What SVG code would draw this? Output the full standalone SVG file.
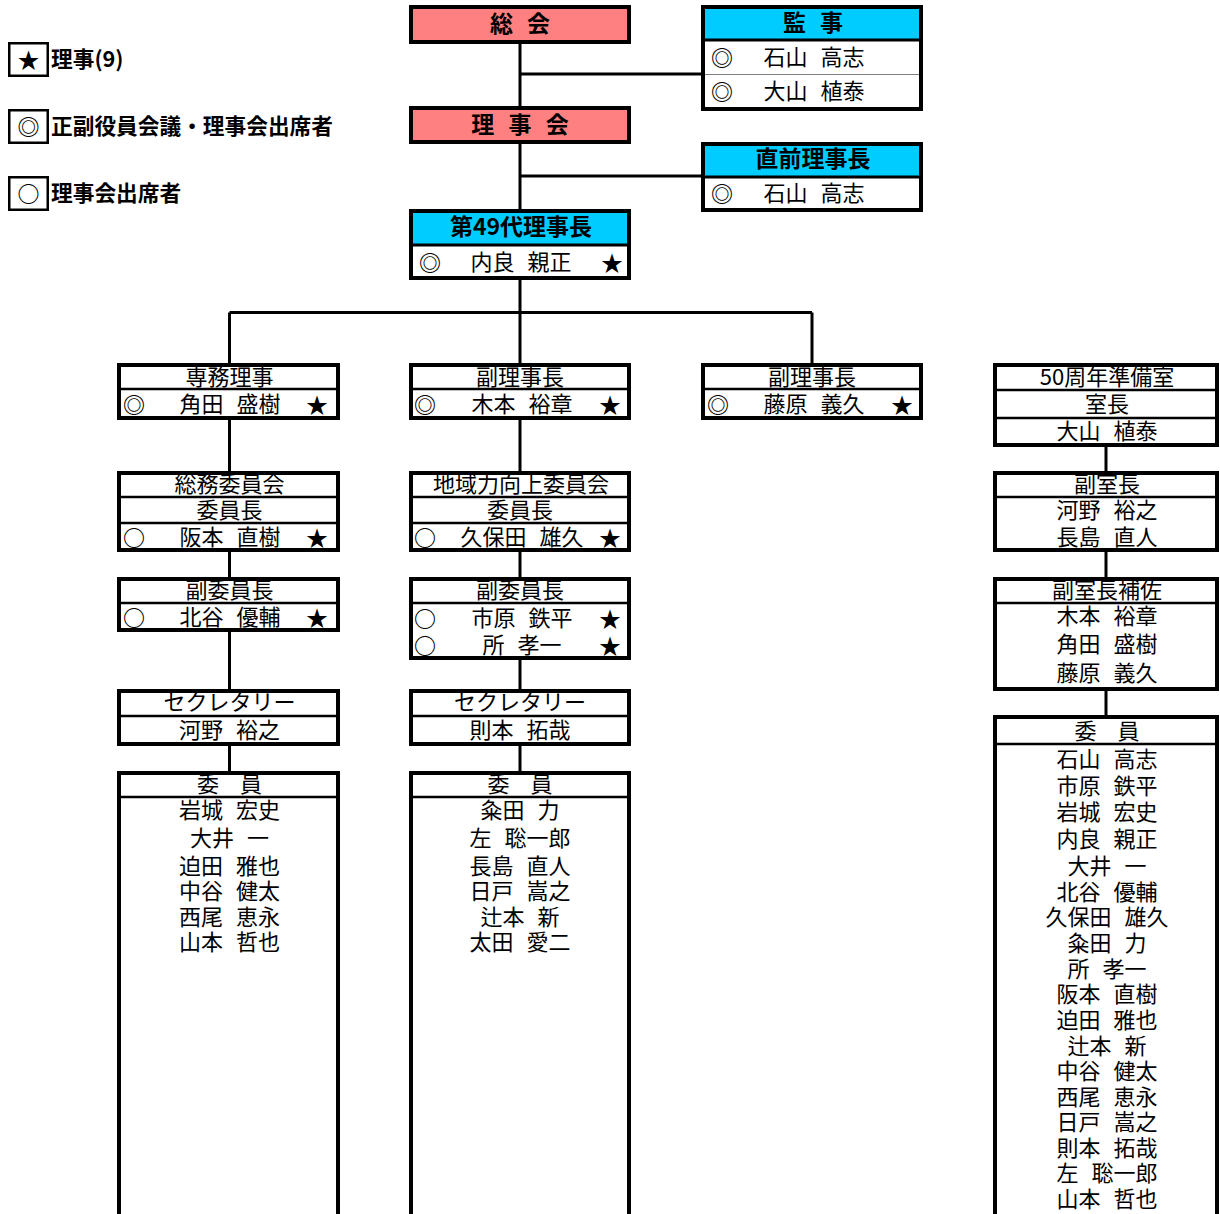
<svg xmlns="http://www.w3.org/2000/svg" width="1220" height="1214" viewBox="0 0 1220 1214">
<style>
text{font-family:"Noto Sans CJK JP","Noto Sans CJK SC",sans-serif;dominant-baseline:central;fill:#000;transform:translate(0px,-2.5px)}
.box{fill:#fff;stroke:#000;stroke-width:4}
.ol{fill:none;stroke:#000;stroke-width:4}
.pink{fill:#FF8080}
.cyan{fill:#00CCFF}
.dv{stroke:#000;stroke-width:2.5}
.dvt{stroke:#000;stroke-width:3}
.thin{stroke:#808080;stroke-width:1.2}
.conn{stroke:#000;stroke-width:3;fill:none}
.h{font-size:23px;font-weight:bold;text-anchor:middle;word-spacing:9px}
.t{font-size:22px;text-anchor:middle;word-spacing:8px}
.m{font-size:22px;text-anchor:middle}
.r{font-size:22px;text-anchor:middle;font-weight:bold}
.lg{font-size:21.7px;font-weight:bold}
.lb{fill:#fff;stroke:#000;stroke-width:2.5}
</style>

<g id="connectors">
<path class="conn" d="M520 44V365M520 74H703M520 176H703M229.5 312.5H812M229.5 312.5V771M520 312V771M812 312.5V365M1106 447V717"/>
</g>

<g id="legend">
<rect class="lb" x="9.25" y="43.25" width="38.5" height="32.5"/>
<text class="m" x="28.5" y="60">★</text>
<text class="lg" x="51" y="59.5">理事(9)</text>
<rect class="lb" x="9.25" y="110.25" width="38.5" height="32.5"/>
<text class="r" x="28.5" y="127">◎</text>
<text class="lg" x="51" y="126.5">正副役員会議・理事会出席者</text>
<rect class="lb" x="9.25" y="177.25" width="38.5" height="32.5"/>
<text class="r" x="28.5" y="194">○</text>
<text class="lg" x="51" y="193.5">理事会出席者</text>
</g>

<g id="soukai">
<rect class="box pink" x="411" y="7" width="218" height="35"/>
<text class="h" x="520" y="24">総 会</text>
</g>

<g id="kanji">
<rect class="box" x="703" y="7" width="218" height="102"/>
<rect class="cyan" x="703" y="7" width="218" height="33"/>
<line class="dvt" x1="703" y1="40" x2="921" y2="40"/>
<line class="thin" x1="703" y1="74.5" x2="921" y2="74.5"/>
<rect class="ol" x="703" y="7" width="218" height="102"/>
<text class="h" x="813" y="23">監 事</text>
<text class="r" x="722" y="58">◎</text>
<text class="t" x="814" y="57">石山 高志</text>
<text class="r" x="722" y="92">◎</text>
<text class="t" x="814" y="91">大山 植泰</text>
</g>

<g id="rijikai">
<rect class="box pink" x="411" y="108" width="218" height="34"/>
<text class="h" x="520" y="125">理 事 会</text>
</g>

<g id="chokuzen">
<rect class="box" x="703" y="144" width="218" height="66"/>
<rect class="cyan" x="703" y="144" width="218" height="32"/>
<line class="dvt" x1="703" y1="177" x2="921" y2="177"/>
<rect class="ol" x="703" y="144" width="218" height="66"/>
<text class="h" x="813" y="159">直前理事長</text>
<text class="r" x="722" y="194">◎</text>
<text class="t" x="814" y="193">石山 高志</text>
</g>

<g id="rijicho">
<rect class="box" x="411" y="211" width="218" height="67"/>
<rect class="cyan" x="411" y="211" width="218" height="33"/>
<line class="dvt" x1="411" y1="245" x2="629" y2="245"/>
<rect class="ol" x="411" y="211" width="218" height="67"/>
<text class="h" x="521" y="227">第49代理事長</text>
<text class="r" x="430" y="263">◎</text>
<text class="t" x="521" y="262">内良 親正</text>
<text class="m" x="612" y="263">★</text>
</g>

<g id="senmu">
<rect class="box" x="119" y="365" width="219" height="53"/>
<line class="dv" x1="119" y1="389" x2="338" y2="389"/>
<text class="t" x="229.5" y="377">専務理事</text>
<text class="r" x="134" y="405">◎</text>
<text class="t" x="230" y="404">角田 盛樹</text>
<text class="m" x="317" y="405">★</text>
</g>

<g id="fukurijicho1">
<rect class="box" x="411" y="365" width="218" height="53"/>
<line class="dv" x1="411" y1="389" x2="629" y2="389"/>
<text class="t" x="520" y="377">副理事長</text>
<text class="r" x="425" y="405">◎</text>
<text class="t" x="522" y="404">木本 裕章</text>
<text class="m" x="610" y="405">★</text>
</g>

<g id="fukurijicho2">
<rect class="box" x="703" y="365" width="218" height="53"/>
<line class="dv" x1="703" y1="389" x2="921" y2="389"/>
<text class="t" x="812" y="377">副理事長</text>
<text class="r" x="718" y="405">◎</text>
<text class="t" x="814" y="404">藤原 義久</text>
<text class="m" x="902" y="405">★</text>
</g>

<g id="junbishitsu">
<rect class="box" x="995" y="365" width="222" height="80"/>
<line class="dv" x1="995" y1="390" x2="1217" y2="390"/>
<line class="dv" x1="995" y1="418" x2="1217" y2="418"/>
<text class="t" x="1107" y="377">50周年準備室</text>
<text class="t" x="1107" y="404">室長</text>
<text class="t" x="1107" y="431">大山 植泰</text>
</g>

<g id="somu">
<rect class="box" x="119" y="473" width="219" height="77"/>
<line class="dv" x1="119" y1="497" x2="338" y2="497"/>
<line class="dv" x1="119" y1="523" x2="338" y2="523"/>
<text class="t" x="229.5" y="484">総務委員会</text>
<text class="t" x="229.5" y="510">委員長</text>
<text class="r" x="134" y="538">○</text>
<text class="t" x="230" y="537">阪本 直樹</text>
<text class="m" x="317" y="538">★</text>
</g>

<g id="chiiki">
<rect class="box" x="411" y="473" width="218" height="77"/>
<line class="dv" x1="411" y1="497" x2="629" y2="497"/>
<line class="dv" x1="411" y1="523" x2="629" y2="523"/>
<text class="t" x="521" y="484">地域力向上委員会</text>
<text class="t" x="520" y="510">委員長</text>
<text class="r" x="425" y="538">○</text>
<text class="t" x="522" y="537">久保田 雄久</text>
<text class="m" x="610" y="538">★</text>
</g>

<g id="fukushitsucho">
<rect class="box" x="995" y="473" width="222" height="77"/>
<line class="dv" x1="995" y1="497" x2="1217" y2="497"/>
<text class="t" x="1107" y="484">副室長</text>
<text class="t" x="1107" y="510">河野 裕之</text>
<text class="t" x="1107" y="537">長島 直人</text>
</g>

<g id="somu-fuku">
<rect class="box" x="119" y="579" width="219" height="51"/>
<line class="dv" x1="119" y1="603" x2="338" y2="603"/>
<text class="t" x="229.5" y="590">副委員長</text>
<text class="r" x="134" y="618">○</text>
<text class="t" x="230" y="617">北谷 優輔</text>
<text class="m" x="317" y="618">★</text>
</g>

<g id="chiiki-fuku">
<rect class="box" x="411" y="579" width="218" height="79"/>
<line class="dv" x1="411" y1="603" x2="629" y2="603"/>
<text class="t" x="520" y="590">副委員長</text>
<text class="r" x="425" y="619">○</text>
<text class="t" x="522" y="618">市原 鉄平</text>
<text class="m" x="610" y="619">★</text>
<text class="r" x="425" y="646">○</text>
<text class="t" x="522" y="645">所 孝一</text>
<text class="m" x="610" y="646">★</text>
</g>

<g id="hosa">
<rect class="box" x="995" y="579" width="222" height="110"/>
<line class="dv" x1="995" y1="603" x2="1217" y2="603"/>
<text class="t" x="1107" y="590">副室長補佐</text>
<text class="t" x="1107" y="616">木本 裕章</text>
<text class="t" x="1107" y="644">角田 盛樹</text>
<text class="t" x="1107" y="673">藤原 義久</text>
</g>

<g id="somu-sec">
<rect class="box" x="119" y="691" width="219" height="53"/>
<line class="dv" x1="119" y1="716" x2="338" y2="716"/>
<text class="t" x="229.5" y="702">セクレタリー</text>
<text class="t" x="229.5" y="730">河野 裕之</text>
</g>

<g id="chiiki-sec">
<rect class="box" x="411" y="691" width="218" height="53"/>
<line class="dv" x1="411" y1="716" x2="629" y2="716"/>
<text class="t" x="520" y="702">セクレタリー</text>
<text class="t" x="520" y="730">則本 拓哉</text>
</g>

<g id="somu-iin">
<rect class="box" x="119" y="773" width="219" height="470"/>
<line class="dv" x1="119" y1="797" x2="338" y2="797"/>
<text class="t" x="229.5" y="784" style="word-spacing:16px">委 員</text>
<text class="t" x="229.5" y="810">岩城 宏史</text>
<text class="t" x="229.5" y="838">大井 一</text>
<text class="t" x="229.5" y="866">迫田 雅也</text>
<text class="t" x="229.5" y="891">中谷 健太</text>
<text class="t" x="229.5" y="917">西尾 恵永</text>
<text class="t" x="229.5" y="942">山本 哲也</text>
</g>

<g id="chiiki-iin">
<rect class="box" x="411" y="773" width="218" height="470"/>
<line class="dv" x1="411" y1="797" x2="629" y2="797"/>
<text class="t" x="520" y="784" style="word-spacing:16px">委 員</text>
<text class="t" x="520" y="810">粂田 力</text>
<text class="t" x="520" y="838">左 聡一郎</text>
<text class="t" x="520" y="866">長島 直人</text>
<text class="t" x="520" y="891">日戸 嵩之</text>
<text class="t" x="520" y="917">辻本 新</text>
<text class="t" x="520" y="942">太田 愛二</text>
</g>

<g id="junbi-iin">
<rect class="box" x="995" y="717" width="222" height="530"/>
<line class="dv" x1="995" y1="744" x2="1217" y2="744"/>
<text class="t" x="1107" y="731" style="word-spacing:16px">委 員</text>
<text class="t" x="1107" y="759">石山 高志</text>
<text class="t" x="1107" y="786">市原 鉄平</text>
<text class="t" x="1107" y="812">岩城 宏史</text>
<text class="t" x="1107" y="839">内良 親正</text>
<text class="t" x="1107" y="866">大井 一</text>
<text class="t" x="1107" y="892">北谷 優輔</text>
<text class="t" x="1107" y="917">久保田 雄久</text>
<text class="t" x="1107" y="943">粂田 力</text>
<text class="t" x="1107" y="969">所 孝一</text>
<text class="t" x="1107" y="994">阪本 直樹</text>
<text class="t" x="1107" y="1020">迫田 雅也</text>
<text class="t" x="1107" y="1046">辻本 新</text>
<text class="t" x="1107" y="1071">中谷 健太</text>
<text class="t" x="1107" y="1097">西尾 恵永</text>
<text class="t" x="1107" y="1122">日戸 嵩之</text>
<text class="t" x="1107" y="1148">則本 拓哉</text>
<text class="t" x="1107" y="1173">左 聡一郎</text>
<text class="t" x="1107" y="1199">山本 哲也</text>
</g>
</svg>
